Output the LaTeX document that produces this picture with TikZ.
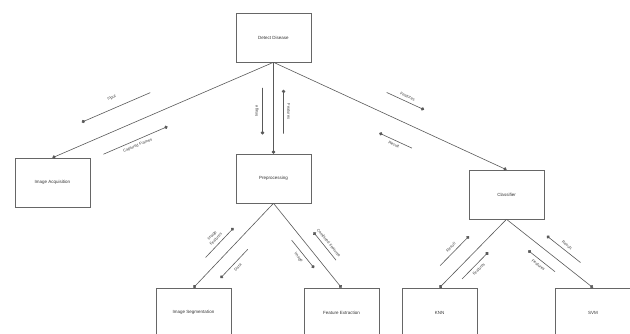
\documentclass[tikz,border=0pt]{standalone}
\usepackage{fontspec}
\setmainfont{Liberation Sans}
\usetikzlibrary{arrows.meta,positioning,calc}

\tikzset{
    box/.style={draw=black!60, line width=0.6pt, minimum width=75pt,
        minimum height=49pt, inner sep=1pt, text=black!80,
        font=\fontsize{4.5}{5.4}\selectfont},
    link/.style={draw=black!65, line width=0.6pt, -{Circle[length=3.4pt]}},
    msgline/.style={draw=black!65, line width=0.6pt, -{Circle[length=3.4pt]}},
    msglabel/.style={font=\fontsize{4}{5.2}\selectfont, text=black!75,
        inner sep=0.5pt, sloped, align=center},
}

% message along a link: from, to, start, end, offset, label side, text
\newcommand{\msg}[7]{%
    \draw[msgline] ($(#1)!#3!(#2)!#5!90:(#2)$)
        -- node[msglabel,#6] {#7} ($(#1)!#4!(#2)!#5!90:(#2)$);
}

\begin{document}
\begin{tikzpicture}[x=1pt, y=-1pt]
\useasboundingbox (0,0) rectangle (630,333);

% boxes
\node[box] (disease) at (273.5,37.5) {Detect Disease};
\node[box] (acq) at (52.5,182.5) {Image Acquisition};
\node[box] (prep) at (273.5,178.5) {Preprocessing};
\node[box] (classifier) at (506.5,194.5) {Classifier};
\node[box] (seg) at (193.5,312.5) {Image Segmentation};
\node[box] (feat) at (341.5,312.5) {Feature Extraction};
\node[box] (knn) at (439.5,312.5) {KNN};
\node[box] (svm) at (593,312.5) {SVM};

% links
\draw[link] (disease.south) -- (acq.north);
\draw[link] (disease.south) -- (prep.north);
\draw[link] (disease.south) -- (classifier.north);
\draw[link] (prep.south) -- (seg.north);
\draw[link] (prep.south) -- (feat.north);
\draw[link] (classifier.south) -- (knn.north);
\draw[link] (classifier.south) -- (svm.north);

% messages
\msg{disease.south}{acq.north}{0.52}{0.83}{-21pt}{above=8pt}{Input}
\msg{disease.south}{acq.north}{0.80}{0.51}{17pt}{below=3pt}{Captured Frames}
\msg{disease.south}{prep.north}{0.28}{0.79}{-11pt}{above=3pt}{Image}
\msg{disease.south}{prep.north}{0.78}{0.30}{10pt}{above=3pt}{Features}
\msg{disease.south}{classifier.north}{0.45}{0.61}{20pt}{above=3pt}{Features}
\msg{disease.south}{classifier.north}{0.63}{0.49}{-20pt}{below=2pt}{Result}
\msg{prep.south}{seg.north}{0.74}{0.39}{-12pt}{above=3pt}{Image\\Features}
\msg{prep.south}{seg.north}{0.44}{0.78}{13pt}{below=3pt}{Data}
\msg{prep.south}{feat.north}{0.77}{0.44}{13pt}{above=3pt}{Combined Features}
\msg{prep.south}{feat.north}{0.37}{0.70}{-9pt}{below=3pt}{Image}
\msg{classifier.south}{knn.north}{0.83}{0.40}{-15pt}{above=3pt}{Result}
\msg{classifier.south}{knn.north}{0.77}{0.38}{10pt}{below=3pt}{Features}
\msg{classifier.south}{svm.north}{0.77}{0.38}{12pt}{above=3pt}{Result}
\msg{classifier.south}{svm.north}{0.64}{0.33}{-11pt}{below=3pt}{Features}
\end{tikzpicture}
\end{document}
